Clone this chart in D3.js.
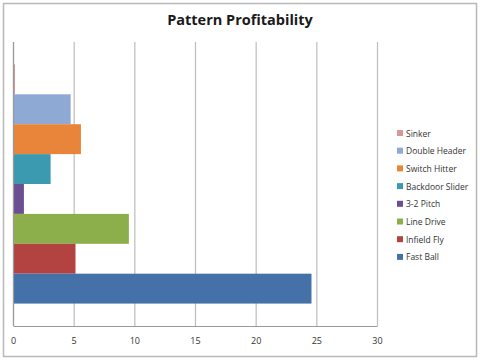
<!DOCTYPE html>
<html>
<head>
<meta charset="utf-8">
<script src="https://cdn.jsdelivr.net/npm/d3@7"></script>
<style>
  body { margin: 0; background: #fff; }
  svg { display: block; font-family: 'Open Sans', 'DejaVu Sans', sans-serif; }
</style>
</head>
<body>
<div id="chart"></div>
<script>
// series in drawing order, top to bottom
const series = ['Sinker', 'Double Header', 'Switch Hitter', 'Backdoor Slider', '3-2 Pitch', 'Line Drive', 'Infield Fly', 'Fast Ball']
const values = [0.12, 4.75, 5.6, 3.1, 0.9, 9.55, 5.15, 24.6]
const colors = ['#D99694', '#8EA9D4', '#E8853A', '#3C9AB0', '#6B4F91', '#8DAF4B', '#B24340', '#4571A9']
const xTicks = [0, 5, 10, 15, 20, 25, 30]

const width = 480
const height = 360
const plot = { left: 13, right: 377, top: 42, bottom: 326 }

const svg = d3.select('#chart')
  .append('svg')
  .attr('width', width)
  .attr('height', height)

// outer frame
svg.append('rect')
  .attr('x', 3.5)
  .attr('y', 3.5)
  .attr('width', width - 7)
  .attr('height', height - 7)
  .attr('fill', '#fff')
  .attr('stroke', '#b8b8b8')
  .attr('stroke-width', 1.5)

svg.append('text')
  .attr('x', 240)
  .attr('y', 25)
  .attr('text-anchor', 'middle')
  .attr('font-size', 14.5)
  .attr('font-weight', 'bold')
  .attr('fill', '#1a1a1a')
  .text('Pattern Profitability')

const x = d3.scaleLinear()
  .domain([0, 30])
  .range([plot.left, plot.right])

const y = d3.scaleBand()
  .domain(series)
  .range([plot.top, plot.bottom])
  .paddingOuter(0.75)
  .paddingInner(0)

// vertical gridlines
svg.append('g')
  .selectAll('line')
  .data(xTicks)
  .join('line')
  .attr('x1', d => x(d) + 0.5)
  .attr('x2', d => x(d) + 0.5)
  .attr('y1', plot.top)
  .attr('y2', plot.bottom)
  .attr('stroke', '#bdbdbd')
  .attr('stroke-width', 1.2)

// bars
svg.append('g')
  .selectAll('rect')
  .data(series)
  .join('rect')
  .attr('x', x(0) + 1)
  .attr('y', d => y(d))
  .attr('width', (d, i) => Math.max(1, x(values[i]) - x(0) - 1))
  .attr('height', y.bandwidth())
  .attr('fill', (d, i) => colors[i])

// bottom axis
const axis = svg.append('g')
  .attr('transform', `translate(0, ${plot.bottom})`)
  .call(d3.axisBottom(x).tickValues(xTicks).tickSize(0).tickPadding(12))

axis.select('.domain')
  .attr('stroke', '#9a9a9a')
  .attr('stroke-width', 1.2)

axis.selectAll('text')
  .attr('font-size', 9)
  .attr('fill', '#333')
  .attr('font-family', "'Open Sans', sans-serif")

// left axis line
svg.append('line')
  .attr('x1', plot.left + 0.5)
  .attr('x2', plot.left + 0.5)
  .attr('y1', plot.top)
  .attr('y2', plot.bottom)
  .attr('stroke', '#9a9a9a')
  .attr('stroke-width', 1.2)

// legend
const legend = svg.append('g')
  .selectAll('g')
  .data(series)
  .join('g')
  .attr('transform', (d, i) => `translate(397, ${133 + i * 17.7})`)

legend.append('rect')
  .attr('x', 0)
  .attr('y', -3)
  .attr('width', 6)
  .attr('height', 6)
  .attr('fill', (d, i) => colors[i])

legend.append('text')
  .attr('x', 9)
  .attr('y', 3.5)
  .attr('font-size', 8.5)
  .attr('fill', '#333')
  .text(d => d)
</script>
</body>
</html>
